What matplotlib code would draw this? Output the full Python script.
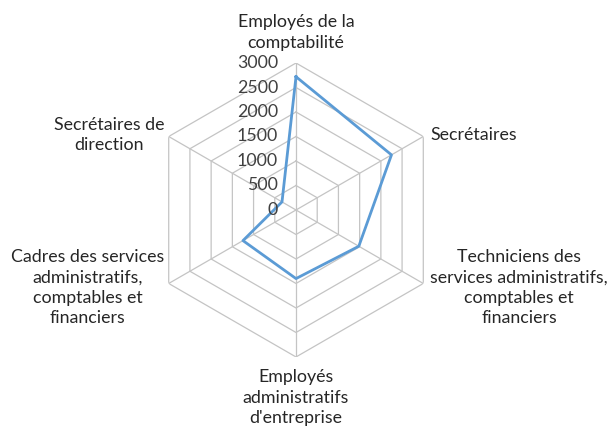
import numpy as np
import matplotlib.pyplot as plt

categories = [
    "Employés de la\ncomptabilité",
    "Secrétaires",
    "Techniciens des\nservices administratifs,\ncomptables et\nfinanciers",
    "Employés\nadministratifs\nd'entreprise",
    "Cadres des services\nadministratifs,\ncomptables et\nfinanciers",
    "Secrétaires de\ndirection",
]
values = [2720, 2250, 1480, 1400, 1250, 330]
ticks = [0, 500, 1000, 1500, 2000, 2500, 3000]

plt.rcParams["font.family"] = ["Lato", "DejaVu Sans"]
fs = 12.8

n = len(categories)
theta = np.arange(n) * 2 * np.pi / n
theta_closed = np.append(theta, theta[0])

fig = plt.figure(figsize=(6.07, 4.30), dpi=100)
ax = fig.add_axes([0.2455, 0.1698, 0.4843, 0.6837], projection="polar")
ax.set_theta_zero_location("N")
ax.set_theta_direction(-1)
ax.set_ylim(0, 3000)
ax.grid(False)
ax.set_xticks([])
ax.set_yticks([])
ax.spines["polar"].set_visible(False)
ax.patch.set_visible(False)

# hexagonal grid rings and spokes
for t in ticks[1:]:
    ax.plot(theta_closed, [t] * (n + 1), color="#c4c4c4", lw=0.9, zorder=1)
for th in theta:
    ax.plot([th, th], [0, 3000], color="#c4c4c4", lw=0.9, zorder=1)

# data
ax.plot(theta_closed, values + [values[0]], color="#5b9bd5", lw=2.0, zorder=3)

# radial tick labels along the top spoke
for t in ticks:
    ax.annotate(str(t), xy=(0, t), xytext=(-13, 0), textcoords="offset points",
                ha="right", va="center", fontsize=fs, color="#404040")

# category labels
offsets = [(0, 9), (5, 1), (5, -3), (0, -9), (-3, -3), (-3, 1)]
aligns = [("center", "bottom"), ("left", "center"), ("left", "center"),
          ("center", "top"), ("right", "center"), ("right", "center")]
for th, lab, off, (ha, va) in zip(theta, categories, offsets, aligns):
    ax.annotate(lab, xy=(th, 3000), xytext=off, textcoords="offset points",
                ha=ha, va=va, multialignment="center", fontsize=fs,
                color="#262626", linespacing=1.32)

fig.savefig("out.png", dpi=100)
